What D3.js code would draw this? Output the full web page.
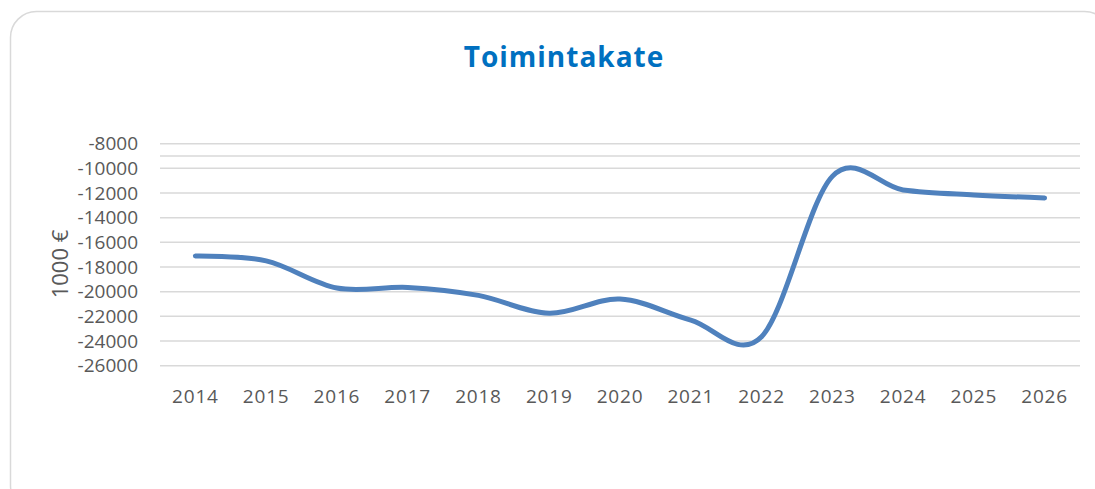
<!DOCTYPE html>
<html><head><meta charset="utf-8">
<script src="https://cdn.jsdelivr.net/npm/d3@7"></script>
<style>html,body{margin:0;padding:0;background:#fff;}svg{display:block;}</style>
</head><body>
<svg id="chart" width="1095" height="489"></svg>
<script>
const years = ["2014","2015","2016","2017","2018","2019","2020","2021","2022","2023","2024","2025","2026"];
const toimintakate = [-17100,-17500,-19700,-19650,-20300,-21750,-20600,-22300,-23650,-10650,-11750,-12150,-12400];
const yTicks = [-8000,-10000,-12000,-14000,-16000,-18000,-20000,-22000,-24000,-26000];
const extraGrid = [-9000];
const title = "Toimintakate";
const yTitle = "1000 €";

const svg = d3.select("#chart");
svg.append("rect").attr("x",10.5).attr("y",11.5).attr("width",1100).attr("height",500)
  .attr("rx",26).attr("fill","#fff").attr("stroke","#d9d9d9").attr("stroke-width",1.5);

const x = d3.scaleBand().domain(years).range([160,1080]);
const y = d3.scaleLinear().domain([-26000,-8000]).range([365.7,143.7]);

const grid = svg.append("g");
grid.selectAll("line").data(yTicks.concat(extraGrid)).join("line")
  .attr("x1",160).attr("x2",1080).attr("y1",d=>y(d)).attr("y2",d=>y(d))
  .attr("stroke","#d9d9d9").attr("stroke-width",1.5);

const yAxis = svg.append("g").attr("transform","translate(160,0)")
  .call(d3.axisLeft(y).tickValues(yTicks).tickSize(0).tickPadding(22).tickFormat(d=>String(d)));
yAxis.select(".domain").remove();
yAxis.selectAll("text").attr("fill","#595959").style("font-family","'Open Sans', sans-serif").style("font-size","19px");

const xAxis = svg.append("g").attr("transform","translate(0,365.7)")
  .call(d3.axisBottom(x).tickSize(0).tickPadding(24));
xAxis.select(".domain").remove();
xAxis.selectAll("text").attr("fill","#595959").style("font-family","'Open Sans', sans-serif").style("font-size","19px").style("letter-spacing","0.8px");

const line = d3.line().x((d,i)=>x(years[i])+x.bandwidth()/2).y(d=>y(d)).curve(d3.curveCardinal.tension(0));
svg.append("path").datum(toimintakate).attr("d",line).attr("fill","none")
  .attr("stroke","#4f81bd").attr("stroke-width",5).attr("stroke-linecap","round").attr("stroke-linejoin","round");

svg.append("text").attr("x",564).attr("y",67).attr("text-anchor","middle")
  .attr("fill","#0070c0").style("font-family","'Open Sans', sans-serif").style("font-weight","bold").style("font-size","28px").style("letter-spacing","1px")
  .text(title);

svg.append("text").attr("transform","translate(68,264) rotate(-90)").attr("text-anchor","middle")
  .attr("fill","#595959").style("font-family","'Open Sans', sans-serif").style("font-size","22px").text(yTitle);
</script>
</body></html>
